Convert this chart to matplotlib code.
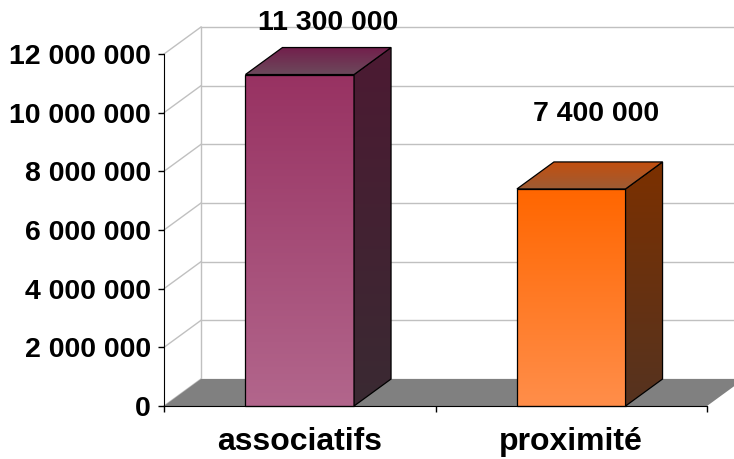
import numpy as np
import matplotlib
matplotlib.use("Agg")
import matplotlib.pyplot as plt
from matplotlib.patches import Polygon
from matplotlib.colors import LinearSegmentedColormap

# ---- data ----
categories = ["associatifs", "proximité"]
values = [11300000, 7400000]
value_labels = ["11 300 000", "7 400 000"]
y_ticks = [0, 2000000, 4000000, 6000000, 8000000, 10000000, 12000000]
y_tick_labels = ["0", "2 000 000", "4 000 000", "6 000 000", "8 000 000", "10 000 000", "12 000 000"]

# ---- style ----
front_colors = [("#983262", "#b2668c"), ("#ff6600", "#ff8e4a")]   # (top, bottom)
side_colors = [("#4c1a32", "#3a2a33"), ("#7c3000", "#553320")]
top_colors = [("#72204c", "#6c4a5c"), ("#c24f10", "#9e5c34")]     # (back, front)
label_offsets_px = [(28, 52), (25, 75)]
FS = 20.5

plt.rcParams["font.family"] = ["Liberation Sans", "DejaVu Sans"]
plt.rcParams["font.weight"] = "bold"

fig = plt.figure(figsize=(7.34, 4.59), dpi=100)
W, H = 734, 459
ax = fig.add_axes([164 / W, (H - 406) / H, (707 - 164) / W, 352 / H])
ax.set_xlim(-0.5, 1.5)
ax.set_ylim(0, 12000000)

# depth offset converted from pixels to data units
px_x = 2.0 / (707 - 164)
px_y = 12000000 / 352
DX = 37 * px_x
DY = 27 * px_y

grid_c = "#c0c0c0"
x0, x1 = -0.5, 1.5
# back wall and left wall gridlines
for t in y_ticks:
    ax.plot([x0 + DX, x1 + DX + 0.2], [t + DY, t + DY], color=grid_c, lw=1, clip_on=False, zorder=0.5)
    ax.plot([x0, x0 + DX], [t, t + DY], color=grid_c, lw=1, clip_on=False, zorder=0.5)
ax.plot([x0 + DX, x0 + DX], [DY, y_ticks[-1] + DY], color=grid_c, lw=1, clip_on=False, zorder=0.5)

# floor
floor = Polygon([(x0, 0), (x1, 0), (x1 + DX, DY), (x0 + DX, DY)], closed=True,
                facecolor="#808080", edgecolor="none", clip_on=False, zorder=1)
ax.add_patch(floor)


def grad_poly(verts, c_hi, c_lo, z):
    poly = Polygon(verts, closed=True, facecolor="none", edgecolor="black",
                   lw=0.9, clip_on=False, zorder=z + 0.05)
    ax.add_patch(poly)
    xs = [v[0] for v in verts]
    ys = [v[1] for v in verts]
    cmap = LinearSegmentedColormap.from_list("g", [c_lo, c_hi])
    grad = np.linspace(0, 1, 256).reshape(-1, 1)
    im = ax.imshow(grad, extent=[min(xs), max(xs), min(ys), max(ys)], origin="lower",
                   cmap=cmap, aspect="auto", zorder=z, interpolation="bilinear")
    im.set_clip_path(poly)
    im.set_clip_box(fig.bbox)
    return im


bw = 0.4
for i, v in enumerate(values):
    l, r = i - bw / 2, i + bw / 2
    z = 2 + i
    # front
    grad_poly([(l, 0), (r, 0), (r, v), (l, v)], front_colors[i][0], front_colors[i][1], z)
    # side
    grad_poly([(r, 0), (r + DX, DY), (r + DX, v + DY), (r, v)], side_colors[i][0], side_colors[i][1], z + 0.2)
    # top
    grad_poly([(l, v), (r, v), (r + DX, v + DY), (l + DX, v + DY)], top_colors[i][0], top_colors[i][1], z + 0.3)
    ax.annotate(value_labels[i], xy=(i, v), xytext=(label_offsets_px[i][0] / 1.389, label_offsets_px[i][1] / 1.389),
                textcoords="offset points", ha="center", va="center", fontsize=FS, fontweight="bold",
                annotation_clip=False)

ax.set_xlim(-0.5, 1.5)
ax.set_ylim(0, 12000000)

# axes styling
for s in ["top", "right"]:
    ax.spines[s].set_visible(False)
ax.spines["left"].set_color("black")
ax.spines["bottom"].set_color("black")
ax.spines["left"].set_zorder(6)
ax.spines["bottom"].set_zorder(6)
ax.patch.set_visible(False)

ax.set_yticks(y_ticks)
ax.set_yticklabels(y_tick_labels, fontsize=FS, fontweight="bold")
ax.tick_params(axis="y", length=4.5, width=1, pad=5)

ax.set_xticks([-0.5, 0.5, 1.5])
ax.set_xticklabels([])
ax.set_xticks([0, 1], minor=True)
ax.set_xticklabels(categories, minor=True, fontsize=23, fontweight="bold")
ax.tick_params(axis="x", which="major", length=4, width=1)
ax.tick_params(axis="x", which="minor", length=0, pad=15)

fig.savefig("out.png", dpi=100)
